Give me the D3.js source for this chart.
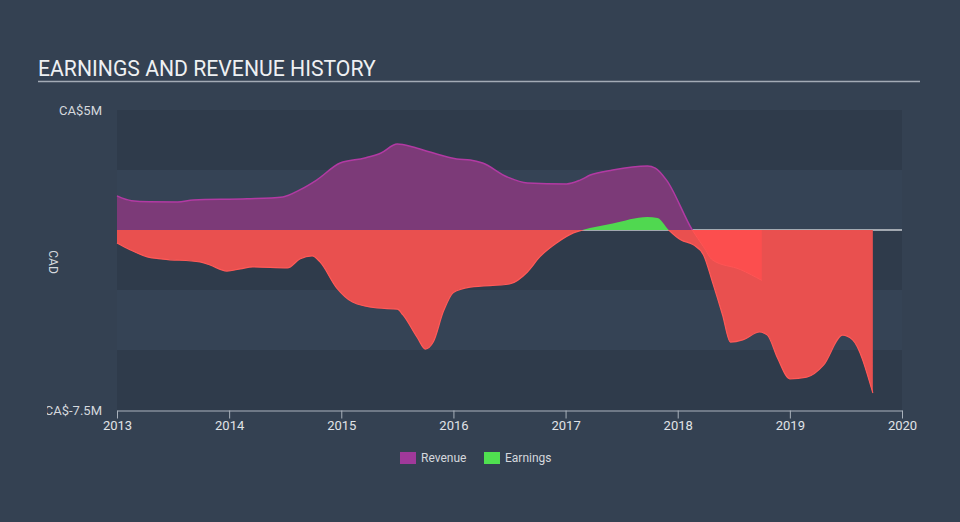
<!DOCTYPE html>
<html><head><meta charset="utf-8">
<script src="https://cdn.jsdelivr.net/npm/d3@7/dist/d3.min.js"></script>
<style>
html,body{margin:0;padding:0;background:#344152;}
svg{display:block;font-family:Roboto,"Open Sans",sans-serif;}
</style>
</head><body>
<svg id="chart" width="960" height="522"></svg>
<script>
// ---- data (values in CA$ millions) ----
const revenueYears = [2013.00,2013.13,2013.29,2013.54,2013.68,2014.16,2014.48,2014.63,2014.78,2014.99,2015.21,2015.35,2015.50,2015.64,2015.79,2016.03,2016.15,2016.26,2016.48,2016.66,2017.01,2017.13,2017.22,2017.42,2017.73,2017.80,2017.90,2018.13,2018.23,2018.31,2018.56,2018.75];
const revenueValues = [1.42,1.22,1.18,1.17,1.25,1.30,1.38,1.67,2.08,2.79,3.00,3.20,3.58,3.46,3.25,2.96,2.92,2.79,2.21,1.96,1.92,2.08,2.29,2.50,2.67,2.58,2.08,0.00,-0.70,-1.25,-1.65,-2.10];
const earningsYears = [2013.00,2013.12,2013.27,2013.41,2013.74,2013.83,2013.98,2014.10,2014.21,2014.52,2014.63,2014.74,2014.81,2014.96,2015.10,2015.32,2015.50,2015.55,2015.68,2015.75,2015.82,2015.91,2016.00,2016.15,2016.50,2016.66,2016.77,2016.92,2017.07,2017.15,2017.42,2017.73,2017.82,2017.92,2018.03,2018.14,2018.23,2018.31,2018.40,2018.47,2018.58,2018.73,2018.80,2018.89,2019.00,2019.15,2019.30,2019.47,2019.56,2019.74];
const earningsValues = [-0.54,-0.83,-1.12,-1.21,-1.33,-1.46,-1.71,-1.62,-1.54,-1.58,-1.21,-1.08,-1.33,-2.42,-3.00,-3.25,-3.30,-3.54,-4.50,-4.96,-4.67,-3.40,-2.60,-2.38,-2.25,-1.75,-1.12,-0.54,-0.12,0.00,0.27,0.54,0.50,0.00,-0.42,-0.62,-1.04,-2.17,-3.54,-4.67,-4.58,-4.25,-4.38,-5.33,-6.20,-6.13,-5.63,-4.38,-4.58,-6.79];
const xTickValues = [2013,2014,2015,2016,2017,2018,2019,2020];
const yTickValues = [5,-7.5];
const yTickLabels = ["CA$5M","CA$-7.5M"];
const seriesNames = ["Revenue","Earnings"];

// ---- layout ----
const W=960,H=522;
const pLeft=117,pRight=902,pTop=110,pBottom=410;
const svg=d3.select("#chart");
const x=d3.scaleLinear().domain([2013,2020]).range([pLeft,pRight]);
const y=d3.scaleLinear().domain([-7.5,5]).range([pBottom,pTop]);

svg.append("rect").attr("width",W).attr("height",H).attr("fill","#344152");

// title
const title=svg.append("text").attr("x",38).attr("y",76).attr("fill","#eef0f2")
  .attr("font-size",19).text("EARNINGS AND REVENUE HISTORY");
const tl=title.node().getComputedTextLength();
title.attr("font-size",19*338/tl);
svg.append("line").attr("x1",38).attr("x2",920).attr("y1",81.5).attr("y2",81.5)
  .attr("stroke","#a3abb6").attr("stroke-width",1.5);

// bands
const bandStarts=d3.range(-7.5,5,2.5);
svg.append("g").selectAll("rect").data(bandStarts).join("rect")
  .attr("x",pLeft).attr("width",pRight-pLeft)
  .attr("y",d=>y(d+2.5)).attr("height",d=>y(d)-y(d+2.5))
  .attr("fill",(d,i)=>i%2===0?"#2f3b4b":"#354355");

// clip paths
const defs=svg.append("defs");
defs.append("clipPath").attr("id","above").append("rect")
  .attr("x",0).attr("y",0).attr("width",W).attr("height",y(0));
defs.append("clipPath").attr("id","below").append("rect")
  .attr("x",0).attr("y",y(0)).attr("width",W).attr("height",H-y(0));
defs.append("clipPath").attr("id","ylab").append("rect")
  .attr("x",47).attr("y",0).attr("width",W).attr("height",H);

const rev=revenueYears.map((t,i)=>[t,revenueValues[i]]);
const earn=earningsYears.map((t,i)=>[t,earningsValues[i]]);
const area=d3.area().x(d=>x(d[0])).y0(y(0)).y1(d=>y(d[1])).curve(d3.curveMonotoneX);
const line=d3.line().x(d=>x(d[0])).y(d=>y(d[1])).curve(d3.curveMonotoneX);

// zero line
svg.append("line").attr("x1",pLeft).attr("x2",pRight).attr("y1",y(0)).attr("y2",y(0))
  .attr("stroke","#c9cdd2").attr("stroke-width",1.5);

// revenue positive
svg.append("path").datum(rev).attr("clip-path","url(#above)").attr("d",area).attr("fill","#7c3a78");
svg.append("path").datum(rev).attr("clip-path","url(#above)").attr("d",line)
  .attr("fill","none").attr("stroke","#b23aa3").attr("stroke-width",1.5);
// earnings negative
svg.append("path").datum(earn).attr("clip-path","url(#below)").attr("d",area).attr("fill","#e9504f");
svg.append("path").datum(earn).attr("clip-path","url(#below)").attr("d",line)
  .attr("fill","none").attr("stroke","#ff5a58").attr("stroke-width",1.2);
// earnings positive
svg.append("path").datum(earn).attr("clip-path","url(#above)").attr("d",area).attr("fill","#50d850");
// revenue negative
svg.append("path").datum(rev).attr("clip-path","url(#below)").attr("d",area).attr("fill","rgba(255,77,77,0.85)");
svg.append("path").datum(rev).attr("clip-path","url(#below)").attr("d",line)
  .attr("fill","none").attr("stroke","#ff5555").attr("stroke-width",1);

// y labels
svg.append("g").attr("clip-path","url(#ylab)").selectAll("text").data(yTickValues).join("text")
  .attr("x",102).attr("y",d=>y(d)+4.5).attr("text-anchor","end")
  .attr("fill","#d4d8dd").attr("font-size",13).text((d,i)=>yTickLabels[i]);
svg.append("text").attr("transform",`translate(49,262) rotate(90)`)
  .attr("text-anchor","middle").attr("fill","#d4d8dd").attr("font-size",12).text("CAD");

// x axis
const xAxis=d3.axisBottom(x).tickValues(xTickValues).tickFormat(d3.format("d")).tickSize(8).tickSizeOuter(0);
const gx=svg.append("g").attr("transform",`translate(0,${pBottom+0.5})`).call(xAxis);
gx.select(".domain").attr("stroke","#a9b1bb");
gx.selectAll(".tick line").attr("stroke","#a9b1bb");
gx.selectAll("text").attr("fill","#e0e3e7").attr("font-size",13).attr("font-family","Roboto,sans-serif").attr("dy","0.8em").attr("y",9);

// legend
const legendColors=["#a0399a","#50e050"];
const lg=svg.append("g");
const lx=[400,484];
seriesNames.forEach((n,i)=>{
  lg.append("rect").attr("x",lx[i]).attr("y",452).attr("width",16).attr("height",12).attr("fill",legendColors[i]);
  lg.append("text").attr("x",lx[i]+21).attr("y",462).attr("fill","#d4d8dd").attr("font-size",12).text(n);
});
</script>
</body></html>
